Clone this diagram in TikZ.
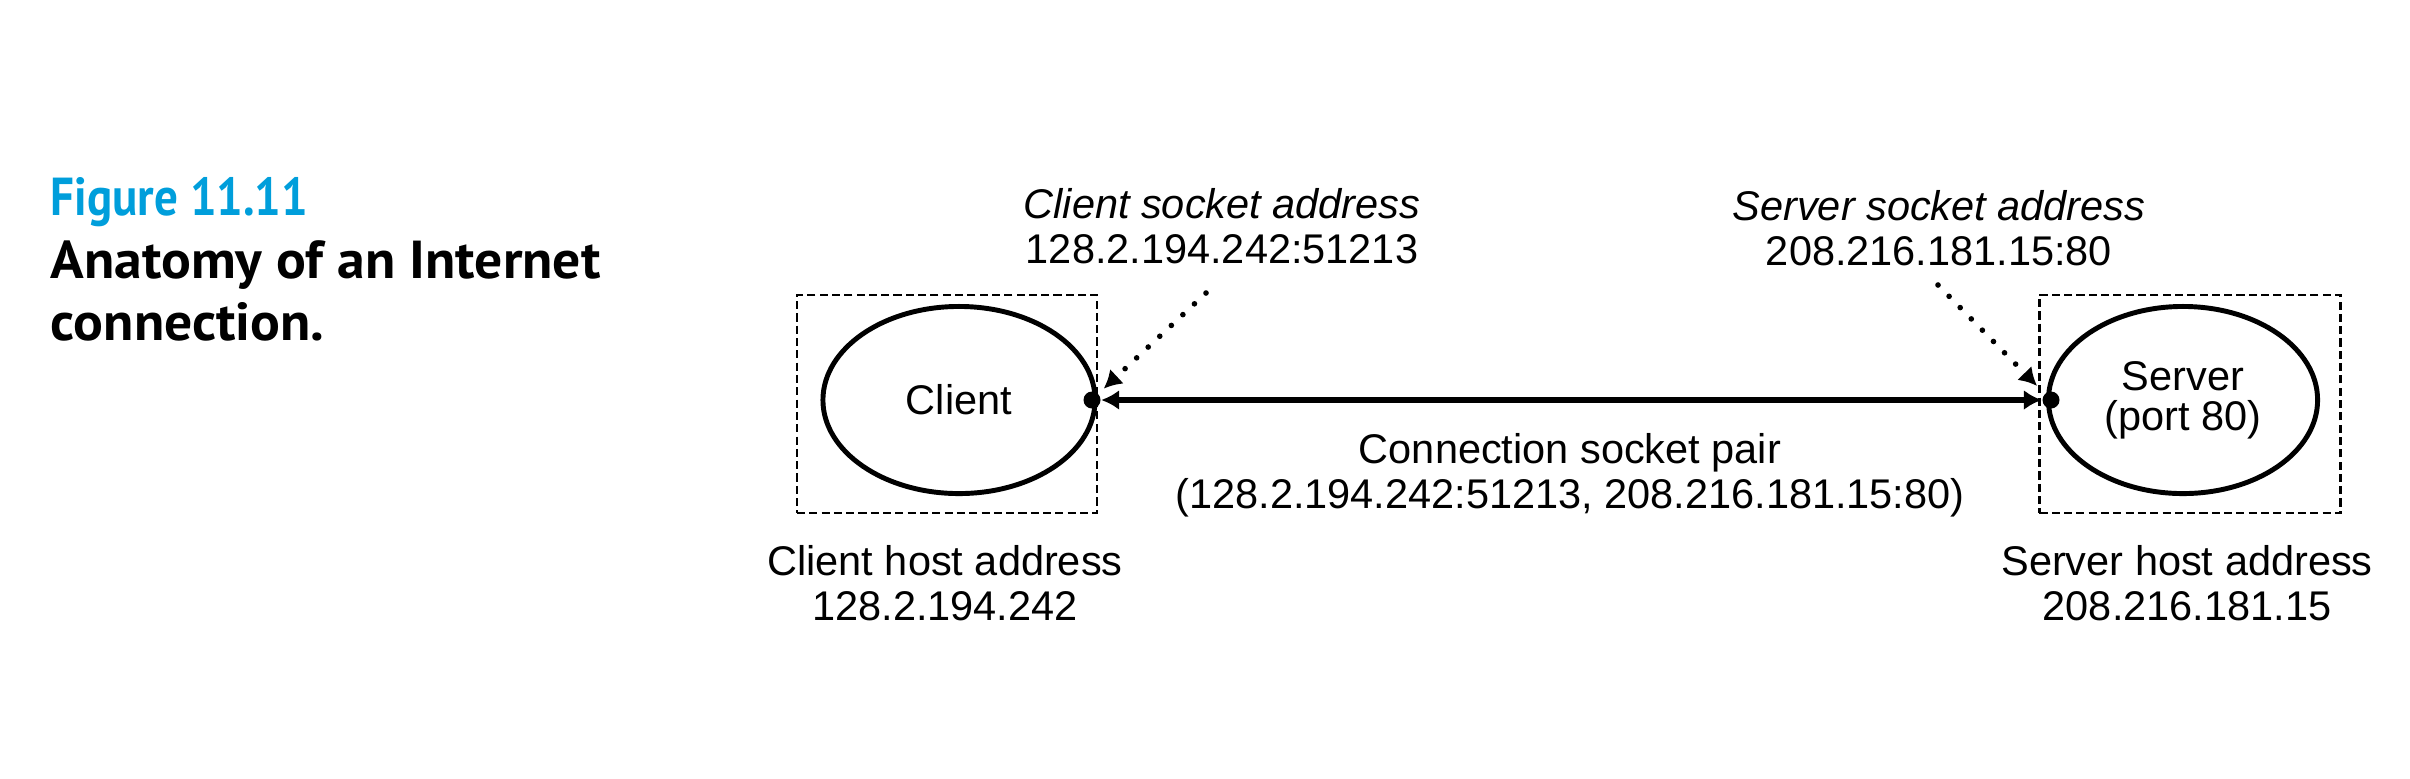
\documentclass[tikz,border=0pt]{standalone}
\usepackage{fontspec}
\setmainfont{Liberation Sans}
\newfontfamily\capfont{PT Sans}[FakeStretch=1.04]
\newfontfamily\capnofont{PT Sans}[FakeStretch=0.88]
\usetikzlibrary{shapes.geometric,arrows.meta}
\definecolor{figblue}{RGB}{0,158,219}

\tikzset{
	host/.style={ellipse, draw, line width=1.4pt, inner sep=0pt, minimum height=1.87cm, align=center},
	hostbox/.style={draw, dash pattern=on 2.3pt off 1.2pt, line width=0.7pt, inner sep=0pt, minimum height=2.18cm},
	sockdot/.style={circle, fill, inner sep=0pt, minimum size=0.17cm},
	pairtip/.style={arrows={Latex[length=5.1pt,width=5.7pt]-Latex[length=5.1pt,width=5.7pt]}},
	pointer/.style={arrows={-Latex[length=5.1pt,width=5.7pt]}, line width=1.6pt, dash pattern=on 0pt off 4.5pt, line cap=round},
	txt/.style={align=center, inner sep=0pt},
	capline/.style={anchor=base west, inner sep=0pt, align=left, font=\capfont\bfseries\fontsize{15.2}{17.6}\selectfont}
}

\begin{document}
\begin{tikzpicture}[x=0.01cm, y=-0.01cm, font=\fontsize{11.8}{12.8}\selectfont]

	\useasboundingbox (0,0) rectangle (2410,778);

	\node [capline, text=figblue, font=\capnofont\bfseries\fontsize{15.2}{17.6}\selectfont] (figno) at (50,215) {Figure 11.11};
	\node [capline] (figcap) at (50,340) {Anatomy of an Internet\\connection.};

	\node [host, minimum width=2.72cm] (client) at (959,400) {Client};
	\node [host, minimum width=2.69cm, font=\fontsize{11.8}{11.4}\selectfont] (server) at (2183,400) {Server\\(port 80)};
	\node [hostbox, minimum width=3.0cm] (cbox) at (947,404) {};
	\node [hostbox, minimum width=3.01cm] (sbox) at (2190,404) {};
	\node [sockdot] (cdot) at (1092,400) {};
	\node [sockdot] (sdot) at (2051,400) {};
	\draw [pairtip, line width=1.5pt] (cdot) -- (sdot);

	\node [txt] (pair) at (1570,475) {Connection socket pair\\(128.2.194.242:51213, 208.216.181.15:80)};
	\node [txt] (csock) at (1222,226) {\textit{Client socket address}\\128.2.194.242:51213};
	\node [txt] (ssock) at (1939,228) {\textit{Server socket address}\\208.216.181.15:80};
	\node [txt] (caddr) at (945,583) {Client host address\\128.2.194.242};
	\node [txt] (saddr) at (2187,583) {Server host address\\208.216.181.15};

	\coordinate (cptr) at (1206,293);
	\coordinate (sptr) at (1938,285);
	\draw [pointer, shorten >=2pt] (cptr) -- (cdot.north east);
	\draw [pointer, shorten >=3pt] (sptr) -- (sdot.north west);

\end{tikzpicture}
\end{document}
